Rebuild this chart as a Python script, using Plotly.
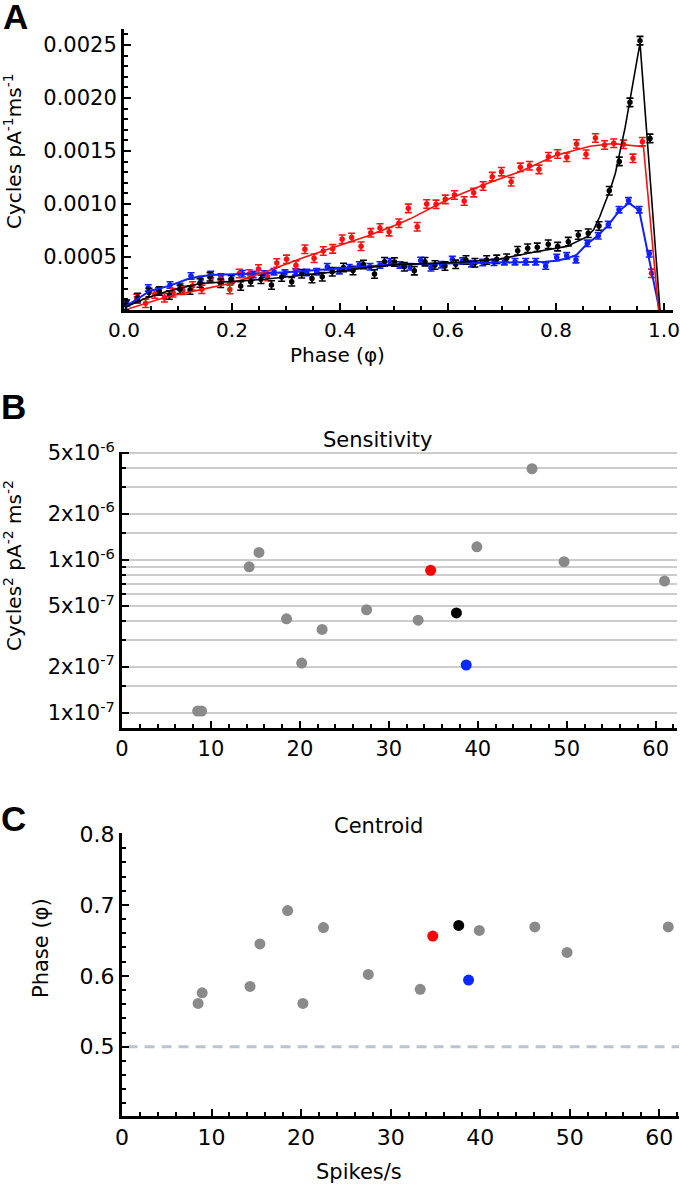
import plotly.graph_objects as go

W, H = 680, 1188
FONT = "DejaVu Sans"

# ---------------- Panel A data (phase, cycles pA^-1 ms^-1) ----------------
red_phase = [0.0235, 0.040, 0.057, 0.075, 0.091, 0.109, 0.127, 0.144, 0.161, 0.179,
             0.196, 0.2135, 0.232, 0.249, 0.266, 0.283, 0.301, 0.3185, 0.335, 0.352,
             0.369, 0.3865, 0.404, 0.4215, 0.439, 0.457, 0.474, 0.491, 0.509, 0.5265,
             0.543, 0.5605, 0.578, 0.595, 0.612, 0.630, 0.6476, 0.665, 0.682, 0.699,
             0.717, 0.734, 0.751, 0.7685, 0.786, 0.803, 0.820, 0.838, 0.8556, 0.873,
             0.890, 0.907, 0.925, 0.9426, 0.960, 0.977]
red_val = [1.10e-4, 0.63e-4, 1.51e-4, 1.16e-4, 1.62e-4, 1.86e-4, 2.26e-4, 1.95e-4, 2.99e-4, 2.91e-4,
           1.93e-4, 3.44e-4, 3.40e-4, 3.87e-4, 3.16e-4, 4.43e-4, 4.78e-4, 4.23e-4, 5.73e-4, 4.88e-4,
           5.57e-4, 5.77e-4, 6.68e-4, 6.84e-4, 6.01e-4, 7.28e-4, 7.74e-4, 7.39e-4, 8.18e-4, 9.59e-4,
           7.86e-4, 10.0e-4, 9.97e-4, 10.44e-4, 10.85e-4, 10.28e-4, 11.07e-4, 11.70e-4, 12.58e-4, 13.05e-4,
           12.10e-4, 13.46e-4, 13.61e-4, 13.27e-4, 14.46e-4, 14.72e-4, 14.41e-4, 15.66e-4, 14.69e-4, 16.23e-4,
           15.57e-4, 15.73e-4, 15.63e-4, 14.31e-4, 15.88e-4, 3.46e-4]
red_err = 0.4e-4

black_phase = [0.0037, 0.0254, 0.0463, 0.0654, 0.0839, 0.1037, 0.1222, 0.1407, 0.1593, 0.1791,
               0.1981, 0.2161, 0.2346, 0.2537, 0.2731, 0.2920, 0.3106, 0.3291, 0.3481, 0.3672,
               0.3857, 0.4065, 0.4241, 0.4435, 0.4639, 0.4824, 0.5009, 0.5191, 0.5376, 0.5574,
               0.5759, 0.5944, 0.6143, 0.6333, 0.6500, 0.6717, 0.6902, 0.7087, 0.7291, 0.7476,
               0.7654, 0.7857, 0.8031, 0.8228, 0.8413, 0.8598, 0.8796, 0.8987, 0.9172, 0.9370,
               0.9556, 0.9741]
black_val = [0.47e-4, 1.18e-4, 1.65e-4, 1.79e-4, 1.42e-4, 1.95e-4, 1.89e-4, 2.55e-4, 3.14e-4, 2.52e-4,
             2.89e-4, 2.26e-4, 2.67e-4, 2.90e-4, 2.36e-4, 3.11e-4, 2.67e-4, 3.42e-4, 2.97e-4, 3.14e-4,
             3.61e-4, 4.01e-4, 3.73e-4, 4.29e-4, 3.40e-4, 4.56e-4, 4.53e-4, 4.08e-4, 3.71e-4, 4.56e-4,
             4.25e-4, 4.15e-4, 4.31e-4, 4.72e-4, 4.46e-4, 4.72e-4, 4.78e-4, 4.88e-4, 5.59e-4, 5.82e-4,
             5.91e-4, 6.20e-4, 5.98e-4, 6.45e-4, 7.08e-4, 7.24e-4, 7.92e-4, 11.25e-4, 14.02e-4, 19.59e-4,
             25.41e-4, 16.19e-4]
black_err = 0.4e-4

blue_phase = [0.005, 0.0246, 0.045, 0.0643, 0.0852, 0.1037, 0.1241, 0.1426, 0.1606, 0.1796,
              0.1994, 0.2191, 0.2394, 0.2593, 0.2778, 0.2981, 0.318, 0.3383, 0.3569, 0.3765,
              0.3987, 0.4172, 0.4357, 0.4556, 0.4741, 0.4926, 0.5111, 0.5296, 0.5494, 0.5685,
              0.5883, 0.608, 0.6272, 0.6439, 0.6643, 0.6852, 0.7043, 0.7241, 0.7439, 0.7624,
              0.7809, 0.8013, 0.8198, 0.837, 0.858, 0.8783, 0.8969, 0.9167, 0.9343, 0.9541,
              0.9728]
blue_val = [0.66e-4, 0.94e-4, 2.08e-4, 1.79e-4, 2.36e-4, 2.22e-4, 3.21e-4, 2.88e-4, 3.35e-4, 3.11e-4,
            2.94e-4, 3.42e-4, 3.35e-4, 3.40e-4, 3.61e-4, 3.49e-4, 3.61e-4, 3.54e-4, 3.61e-4, 4.08e-4,
            3.71e-4, 3.99e-4, 4.25e-4, 4.08e-4, 4.25e-4, 4.56e-4, 4.25e-4, 4.08e-4, 4.67e-4, 3.98e-4,
            4.27e-4, 4.76e-4, 4.62e-4, 4.37e-4, 4.48e-4, 4.50e-4, 4.56e-4, 4.56e-4, 4.56e-4, 4.56e-4,
            4.15e-4, 4.95e-4, 5.11e-4, 4.75e-4, 6.29e-4, 7.00e-4, 8.07e-4, 9.46e-4, 10.30e-4, 9.46e-4,
            5.30e-4]
blue_err = 0.3e-4

# fitted curves
red_fit_phase = [0.01, 0.08, 0.14, 0.2, 0.26, 0.33, 0.39, 0.45, 0.5, 0.53, 0.6, 0.665, 0.733,
                 0.8, 0.863, 0.906, 0.962, 0.99]
red_fit_val = [0.15e-4, 1.25e-4, 1.9e-4, 2.55e-4, 3.55e-4, 4.9e-4, 5.95e-4, 6.95e-4, 7.95e-4, 8.6e-4,
               10.45e-4, 11.8e-4, 13.05e-4, 14.6e-4, 15.45e-4, 15.7e-4, 15.4e-4, 0.0]
black_fit_phase = [0.002, 0.04, 0.079, 0.141, 0.202, 0.26, 0.326, 0.39, 0.449, 0.511, 0.573, 0.636,
                   0.696, 0.758, 0.82, 0.857, 0.87, 0.881, 0.89, 0.9, 0.91, 0.9185, 0.928, 0.937,
                   0.946, 0.9556, 0.9926]
black_fit_val = [0.25e-4, 1.1e-4, 1.75e-4, 2.5e-4, 2.7e-4, 2.9e-4, 3.25e-4, 3.6e-4, 4.0e-4, 4.3e-4,
                 4.4e-4, 4.55e-4, 4.8e-4, 5.45e-4, 6.0e-4, 6.9e-4, 7.6e-4, 8.8e-4, 10.0e-4, 11.3e-4,
                 12.9e-4, 14.8e-4, 17.2e-4, 19.8e-4, 22.5e-4, 25.2e-4, 0.0]
blue_fit_phase = [0.002, 0.048, 0.085, 0.122, 0.16, 0.2, 0.25, 0.3, 0.35, 0.4, 0.45, 0.5, 0.55,
                  0.6, 0.65, 0.7, 0.75, 0.78, 0.8, 0.82, 0.838, 0.857, 0.876, 0.897, 0.917,
                  0.935, 0.954, 0.991]
blue_fit_val = [0.3e-4, 1.8e-4, 2.3e-4, 3.0e-4, 3.3e-4, 3.35e-4, 3.45e-4, 3.55e-4, 3.75e-4, 3.95e-4,
                4.15e-4, 4.3e-4, 4.35e-4, 4.4e-4, 4.45e-4, 4.45e-4, 4.5e-4, 4.55e-4, 4.65e-4, 4.85e-4,
                5.2e-4, 6.2e-4, 6.95e-4, 8.0e-4, 9.35e-4, 10.1e-4, 9.4e-4, 0.15e-4]

# ---------------- Panels B & C data ----------------
gray_rate = [8.5, 8.95, 14.3, 15.4, 18.5, 20.2, 22.5, 27.5, 33.3, 39.9, 46.1, 49.7, 61.0]
gray_sens = [1.03e-7, 1.03e-7, 9.03e-7, 1.12e-6, 4.13e-7, 2.12e-7, 3.52e-7, 4.73e-7, 4.04e-7,
             1.22e-6, 3.95e-6, 9.75e-7, 7.29e-7]
gray_centroid = [0.561, 0.576, 0.585, 0.645, 0.692, 0.561, 0.668, 0.602, 0.581, 0.664, 0.669,
                 0.633, 0.669]
hl_rate = [34.7, 37.6, 38.7]           # red, black, blue cells
hl_sens = [8.57e-7, 4.51e-7, 2.06e-7]
hl_centroid = [0.656, 0.671, 0.594]
hl_colors = ["#ff0000", "#000000", "#0a28ff"]

sens_major = [1e-7, 2e-7, 5e-7, 1e-6, 2e-6, 5e-6]
sens_major_text = ["1x10<sup>-7</sup>", "2x10<sup>-7</sup>", "5x10<sup>-7</sup>",
                   "1x10<sup>-6</sup>", "2x10<sup>-6</sup>", "5x10<sup>-6</sup>"]
sens_minor = [1.5e-7, 3e-7, 4e-7, 6e-7, 7e-7, 8e-7, 9e-7, 1.5e-6, 3e-6, 4e-6]

# ---------------- figure ----------------
fig = go.Figure()


def px_x(p):
    return p / W


def px_y(p):
    return 1 - p / H


RED, BLACK, BLUE = "#ff1010", "#000000", "#1020ff"

for ph, v, err, col in [(blue_phase, blue_val, blue_err, BLUE),
                        (red_phase, red_val, red_err, RED),
                        (black_phase, black_val, black_err, BLACK)]:
    fig.add_trace(go.Scatter(
        x=ph, y=v, mode="markers", xaxis="x", yaxis="y",
        marker=dict(color=col, size=5.5),
        error_y=dict(type="constant", value=err, color=col, thickness=1.6, width=3.5),
        showlegend=False, cliponaxis=False))

for ph, v, col, w in [(blue_fit_phase, blue_fit_val, BLUE, 2),
                      (red_fit_phase, red_fit_val, RED, 1.6),
                      (black_fit_phase, black_fit_val, BLACK, 1.6)]:
    fig.add_trace(go.Scatter(x=ph, y=v, mode="lines", xaxis="x", yaxis="y",
                             line=dict(color=col, width=w), showlegend=False))

# Panel B
fig.add_trace(go.Scatter(x=gray_rate, y=gray_sens, mode="markers", xaxis="x2", yaxis="y2",
                         marker=dict(color="#8a8a8a", size=11), showlegend=False))
fig.add_trace(go.Scatter(x=hl_rate, y=hl_sens, mode="markers", xaxis="x2", yaxis="y2",
                         marker=dict(color=hl_colors, size=11), showlegend=False))
# Panel C
fig.add_trace(go.Scatter(x=gray_rate, y=gray_centroid, mode="markers", xaxis="x3", yaxis="y3",
                         marker=dict(color="#8a8a8a", size=11), showlegend=False))
fig.add_trace(go.Scatter(x=hl_rate, y=hl_centroid, mode="markers", xaxis="x3", yaxis="y3",
                         marker=dict(color=hl_colors, size=11), showlegend=False))

fig.add_shape(type="line", xref="x3 domain", yref="y3", x0=0.01, x1=1, y0=0.5, y1=0.5,
              line=dict(color="#bcc4cf", width=3, dash="10px,7px"), layer="below")

axis_common = dict(showline=True, linewidth=3, linecolor="black", ticks="inside",
                   ticklen=7, tickwidth=2.2, tickcolor="black", showgrid=False,
                   zeroline=False, fixedrange=True, automargin=False,
                   ticklabeloverflow="allow")


def tf(size):
    return dict(family=FONT, size=size, color="black")


fig.update_layout(
    width=W, height=H, margin=dict(l=0, r=0, t=0, b=0, autoexpand=False),
    paper_bgcolor="white", plot_bgcolor="white", showlegend=False,
    xaxis=dict(**axis_common, domain=[px_x(124), px_x(673)], range=[0, 1.0167],
               anchor="y", tickvals=[0, 0.2, 0.4, 0.6, 0.8, 1.0],
               ticktext=["0.0", "0.2", "0.4", "0.6", "0.8", "1.0"], tickfont=tf(20),
               minor=dict(dtick=0.05, tick0=0, ticks="inside", ticklen=4, tickwidth=2.2,
                          tickcolor="black")),
    yaxis=dict(**axis_common, domain=[px_y(310), px_y(29)], range=[0, 0.002651],
               anchor="x", tickvals=[0.0005, 0.0010, 0.0015, 0.0020, 0.0025],
               ticktext=["0.0005", "0.0010", "0.0015", "0.0020", "0.0025"], tickfont=tf(21),
               minor=dict(dtick=0.0001, tick0=0, ticks="inside", ticklen=4, tickwidth=2.2,
                          tickcolor="black")),
    xaxis2=dict(**axis_common, domain=[px_x(122), px_x(677)], range=[0, 62.4],
                anchor="y2", dtick=10, tick0=0, tickfont=tf(21),
                minor=dict(dtick=2, tick0=0, ticks="inside", ticklen=4, tickwidth=2.2,
                           tickcolor="black")),
    yaxis2=dict(showline=True, linewidth=3, linecolor="black", ticks="inside", ticklen=7,
                tickwidth=2.2, tickcolor="black", zeroline=False, fixedrange=True,
                automargin=False, ticklabeloverflow="allow",
                type="log", domain=[px_y(728), px_y(452)], range=[-7.098, -5.294],
                anchor="x2", tickmode="array", tickvals=sens_major, ticktext=sens_major_text,
                tickfont=tf(21), showgrid=True, gridcolor="#cccccc", gridwidth=1.6,
                minor=dict(tickmode="array", tickvals=sens_minor, ticks="inside", ticklen=4,
                           tickwidth=2.2, tickcolor="black", showgrid=True,
                           gridcolor="#cccccc", gridwidth=1.6)),
    xaxis3=dict(**axis_common, domain=[px_x(122), px_x(679)], range=[0, 62.2],
                anchor="y3", dtick=10, tick0=0, tickfont=tf(22),
                minor=dict(dtick=2, tick0=0, ticks="inside", ticklen=4, tickwidth=2.2,
                           tickcolor="black")),
    yaxis3=dict(**axis_common, domain=[px_y(1116), px_y(833)], range=[0.4023, 0.8014],
                anchor="x3", tickvals=[0.5, 0.6, 0.7, 0.8], ticktext=["0.5", "0.6", "0.7", "0.8"],
                tickfont=tf(22),
                minor=dict(dtick=0.02, tick0=0.4, ticks="inside", ticklen=4, tickwidth=2.2,
                           tickcolor="black")),
)

annots = [
    # (text, x_px, y_px, size, angle, bold)
    ("A", 15, 17, 35, 0, True),
    ("B", 13, 407, 35, 0, True),
    ("C", 13, 818, 35, 0, True),
    ("Cycles pA<sup>-1</sup>ms<sup>-1</sup>", 13, 151, 20, -90, False),
    ("Phase (φ)", 337, 355, 20, 0, False),
    ("Sensitivity", 377, 440, 21, 0, False),
    ("Cycles<sup>2</sup> pA<sup>-2</sup> ms<sup>-2</sup>", 13, 566, 20, -90, False),
    ("Centroid", 378, 826, 21, 0, False),
    ("Phase (φ)", 41, 948, 21, -90, False),
    ("Spikes/s", 359, 1172, 21, 0, False),
]
for text, x, y, size, ang, bold in annots:
    fam = "Liberation Sans" if bold else FONT
    fig.add_annotation(text=f"<b>{text}</b>" if bold else text, xref="paper", yref="paper",
                       x=px_x(x), y=px_y(y), xanchor="center", yanchor="middle",
                       showarrow=False, textangle=ang, font=dict(family=fam, size=size, color="black"))

fig.write_html("out.html", config={"displayModeBar": False},
               post_script="document.body.style.margin='0px';document.body.style.overflow='hidden';")
